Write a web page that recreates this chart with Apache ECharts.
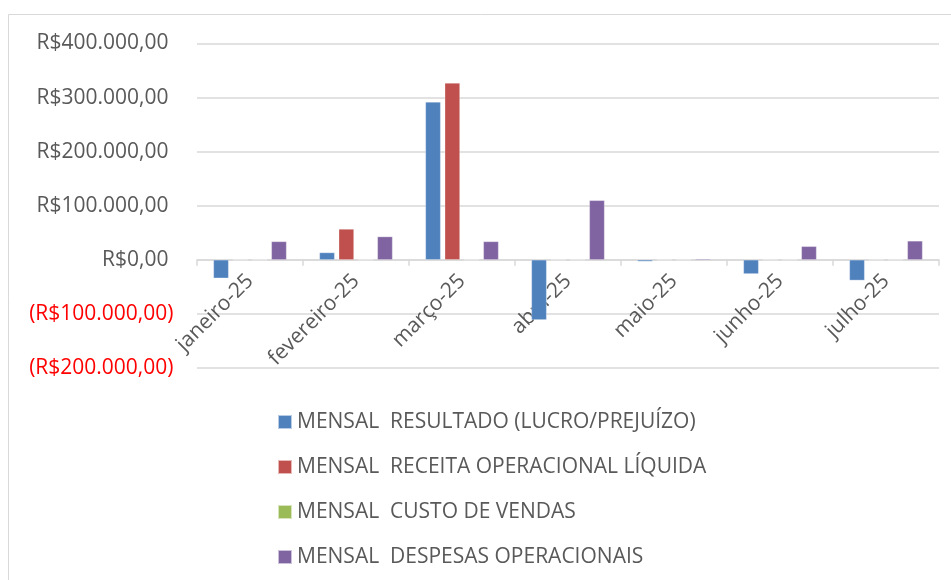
<!DOCTYPE html>
<html>
<head>
<meta charset="utf-8">
<script src="https://cdn.jsdelivr.net/npm/echarts@6/dist/echarts.min.js"></script>
<style>html,body{margin:0;padding:0;background:#fff;}#c{width:951px;height:580px;}</style>
</head>
<body>
<div id="c"></div>
<script>
const categories = ['janeiro-25','fevereiro-25','março-25','abril-25','maio-25','junho-25','julho-25'];
const seriesNames = [
  'MENSAL  RESULTADO (LUCRO/PREJUÍZO)',
  'MENSAL  RECEITA OPERACIONAL LÍQUIDA',
  'MENSAL  CUSTO DE VENDAS',
  'MENSAL  DESPESAS OPERACIONAIS'
];
const resultado = [-34000, 13500, 292000, -111000, -3000, -26000, -38000];
const receita   = [0, 57000, 327000, 0, 0, 0, 0];
const custo     = [0, 0, 0, 0, 0, 0, 0];
const despesas  = [34000, 43000, 34000, 110000, 2000, 25000, 35000];
const colors = ['#4F81BD', '#C0504D', '#9BBB59', '#8064A2'];
const yTickValues = [-200000, -100000, 0, 100000, 200000, 300000, 400000];
const yTickLabels = ['(R$200.000,00)', '(R$100.000,00)', 'R$0,00', 'R$100.000,00', 'R$200.000,00', 'R$300.000,00', 'R$400.000,00'];

const chart = echarts.init(document.getElementById('c'), null, {renderer: 'canvas'});
const font = '"Open Sans", sans-serif';
const fs = 21;
const dataSets = [resultado, receita, custo, despesas];

const gridTop = 43.5, gridBottom = 212, H = 580;
const yMin = -200000, yMax = 400000;
const plotH = H - gridBottom - gridTop;
const zeroOffset = -plotH * (0 - yMin) / (yMax - yMin);

chart.setOption({
  animation: false,
  backgroundColor: '#fff',
  graphic: [{
    type: 'rect', shape: {x: 8.5, y: 14.5, width: 1000, height: 1000},
    style: {fill: 'none', stroke: '#d9d9d9', lineWidth: 1}, silent: true
  }],
  grid: {left: 197, right: 12, top: gridTop, bottom: gridBottom, containLabel: false},
  legend: {
    orient: 'vertical', left: 277, top: 411, padding: 0,
    itemWidth: 14, itemHeight: 14, itemGap: 23,
    icon: 'rect',
    textStyle: {fontFamily: font, fontSize: fs, color: '#595959', lineHeight: 22},
    data: seriesNames
  },
  xAxis: {
    type: 'category', data: categories, position: 'bottom', offset: zeroOffset,
    axisLine: {onZero: false, lineStyle: {color: '#d9d9d9', width: 1.5}},
    axisTick: {show: true, alignWithLabel: false, length: 6, lineStyle: {color: '#d9d9d9', width: 1.5}},
    axisLabel: {rotate: 45, margin: 18, interval: 0, fontFamily: font, fontSize: fs, color: '#595959'}
  },
  yAxis: {
    type: 'value', min: yMin, max: yMax, interval: 100000,
    axisLine: {show: false}, axisTick: {show: false},
    splitLine: {lineStyle: {color: '#d9d9d9', width: 1.5}},
    axisLabel: {
      margin: 23.5, fontFamily: font, fontSize: fs, color: '#595959',
      formatter: function (v) {
        const i = yTickValues.indexOf(v);
        const t = i >= 0 ? yTickLabels[i] : '';
        return v < 0 ? '{neg|' + t + '}' : '{pos|' + t + '}';
      },
      rich: {
        neg: {color: '#FF0000', fontFamily: font, fontSize: fs},
        pos: {color: '#595959', fontFamily: font, fontSize: fs, padding: [0, 5, 0, 0]}
      }
    }
  },
  series: seriesNames.map((n, k) => ({
    name: n, type: 'bar', data: dataSets[k],
    barCategoryGap: '31%', barGap: '27%',
    itemStyle: {color: colors[k], borderColor: 'rgba(255,255,255,0.6)', borderWidth: 0.5}
  }))
});
</script>
</body>
</html>
